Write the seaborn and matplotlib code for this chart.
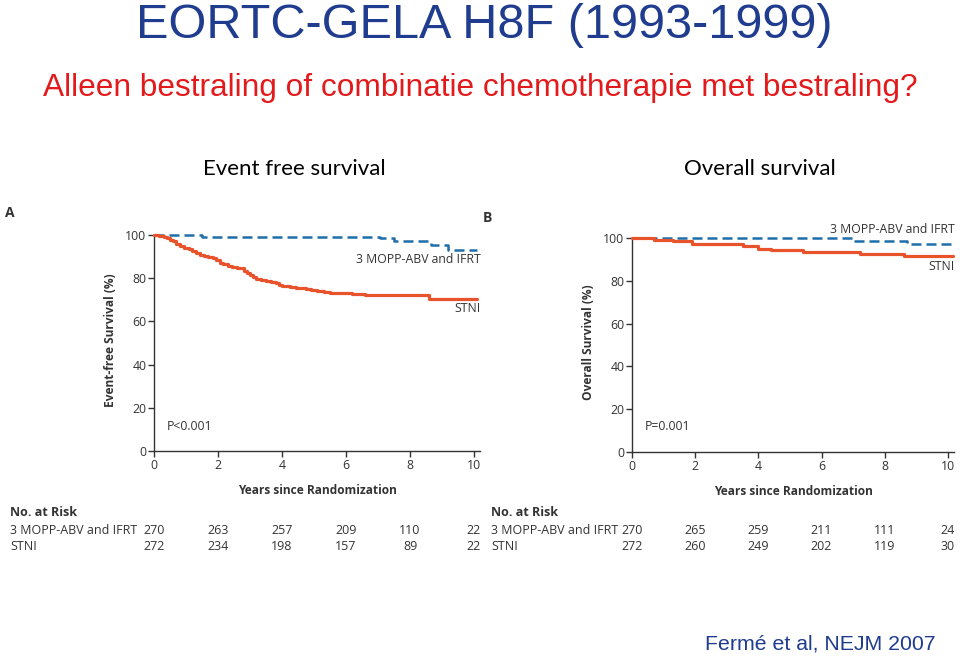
import matplotlib
matplotlib.use("Agg")
import matplotlib.pyplot as plt
import matplotlib.transforms as mtransforms
import pandas as pd
import seaborn as sns

# ---- data -------------------------------------------------------------
# Event-free survival (step points: time in years, survival %)
efs_mopp_t = [0, 1.5, 7.05, 7.5, 8.65, 9.2, 10.1]
efs_mopp_s = [100, 99.2, 98.5, 97.4, 95.4, 93.1, 93.1]
efs_stni_t = [0, 0.15, 0.3, 0.4, 0.5, 0.6, 0.7, 0.8, 0.95, 1.1, 1.2, 1.3,
              1.45, 1.55, 1.7, 1.85, 1.95, 2.05, 2.15, 2.3, 2.45, 2.6, 2.7,
              2.8, 2.9, 3.0, 3.1, 3.2, 3.35, 3.5, 3.65, 3.8, 3.9, 4.0, 4.25,
              4.45, 4.75, 4.9, 5.1, 5.3, 5.5, 5.8, 6.2, 6.6, 7.15, 8.6, 10.1]
efs_stni_s = [100, 99.6, 99.0, 98.5, 97.8, 97.0, 96.0, 94.8, 94.2, 93.6,
              92.6, 91.6, 90.9, 90.3, 89.9, 89.4, 88.5, 87.2, 86.4, 85.8,
              85.2, 84.9, 84.5, 83.4, 82.4, 81.4, 80.6, 79.8, 79.2, 78.7,
              78.2, 77.6, 76.9, 76.2, 75.9, 75.5, 75.0, 74.6, 74.1, 73.7,
              73.3, 73.0, 72.7, 72.4, 72.0, 70.3, 70.3]

# Overall survival
os_mopp_t = [0, 7.0, 8.7, 10.15]
os_mopp_s = [100, 98.4, 97.3, 97.3]
os_stni_t = [0, 0.7, 1.3, 1.9, 3.5, 4.0, 4.4, 5.4, 7.2, 8.6, 10.15]
os_stni_s = [100, 99.2, 98.4, 97.3, 96.4, 94.9, 94.2, 93.5, 92.7, 91.4, 91.4]

risk_years = [0, 2, 4, 6, 8, 10]
efs_risk_mopp = [270, 263, 257, 209, 110, 22]
efs_risk_stni = [272, 234, 198, 157, 89, 22]
os_risk_mopp = [270, 265, 259, 211, 111, 24]
os_risk_stni = [272, 260, 249, 202, 119, 30]

arm_labels = ["3 MOPP-ABV and IFRT", "STNI"]

RED = "#E8532B"
BLUE = "#1F6EA9"
NAVY = "#1F3C8F"
INK = "#333333"

sns.set_theme(style="ticks")
plt.rcParams["font.family"] = ["Open Sans", "DejaVu Sans"]

fig = plt.figure(figsize=(9.6, 6.56), dpi=100)
fig.patch.set_facecolor("white")

W, H = 960, 656


def make_axes(x0_px, x10_px, y0_px, y100_px):
    px_year = (x10_px - x0_px) / 10
    px_unit = (y0_px - y100_px) / 100
    xmax, ymax = 10.2, 103
    left = x0_px / W
    bottom = (H - y0_px) / H
    ax = fig.add_axes([left, bottom, xmax * px_year / W, ymax * px_unit / H])
    ax.set_xlim(0, xmax)
    ax.set_ylim(0, ymax)
    return ax


def style_axes(ax, ylabel):
    sns.despine(ax=ax)
    ax.spines["left"].set_bounds(0, 100)
    ax.spines["bottom"].set_bounds(0, 10.2)
    for side in ("left", "bottom"):
        ax.spines[side].set_color(INK)
        ax.spines[side].set_linewidth(1.0)
    ax.set_xticks(risk_years)
    ax.set_yticks([0, 20, 40, 60, 80, 100])
    ax.tick_params(direction="out", length=4, width=1.0, color=INK,
                   labelsize=8.8, labelcolor=INK, pad=1.5)
    ax.set_xlabel("Years since Randomization", fontsize=8.6,
                  fontweight="bold", color=INK, labelpad=9)
    ax.set_ylabel(ylabel, fontsize=8.6, fontweight="bold", color=INK,
                  labelpad=6)
    ax.set_facecolor("white")
    ax.grid(False)


def draw_curves(ax, mopp_t, mopp_s, stni_t, stni_s):
    stni = pd.DataFrame({"years": stni_t, "surv": stni_s})
    mopp = pd.DataFrame({"years": mopp_t, "surv": mopp_s})
    sns.lineplot(data=mopp, x="years", y="surv", ax=ax, estimator=None,
                 drawstyle="steps-post", color=BLUE, linewidth=1.8,
                 linestyle=(0, (4, 2)), clip_on=False, zorder=3)
    # STNI drawn on top, as in the reference
    sns.lineplot(data=stni, x="years", y="surv", ax=ax, estimator=None,
                 drawstyle="steps-post", color=RED, linewidth=2.3,
                 clip_on=False, zorder=4)


def risk_table(ax, x_label_px, risk_mopp, risk_stni):
    tr = mtransforms.blended_transform_factory(ax.transData, fig.transFigure)
    fig.text(x_label_px / W, 1 - 513 / H, "No. at Risk", fontsize=9,
             fontweight="bold", color=INK, va="center")
    for row_y, name, counts in ((530, arm_labels[0], risk_mopp),
                                (546, arm_labels[1], risk_stni)):
        fig.text(x_label_px / W, 1 - row_y / H, name, fontsize=9,
                 color=INK, va="center")
        for yr, n in zip(risk_years, counts):
            ax.text(yr, 1 - row_y / H, str(n), transform=tr, fontsize=9,
                    color=INK, ha="center", va="center")


# ---- panel A: event-free survival --------------------------------------
ax_a = make_axes(154, 474, 451, 235)
draw_curves(ax_a, efs_mopp_t, efs_mopp_s, efs_stni_t, efs_stni_s)
style_axes(ax_a, "Event-free Survival (%)")
ax_a.text(10.2, 88.5, arm_labels[0], ha="right", va="center",
          fontsize=8.8, color=INK)
ax_a.text(10.2, 66, arm_labels[1], ha="right", va="center",
          fontsize=8.8, color=INK)
ax_a.text(0.4, 11.5, "P<0.001", ha="left", va="center", fontsize=8.8,
          color=INK)
risk_table(ax_a, 10, efs_risk_mopp, efs_risk_stni)

# ---- panel B: overall survival -----------------------------------------
ax_b = make_axes(632, 948, 452, 238)
draw_curves(ax_b, os_mopp_t, os_mopp_s, os_stni_t, os_stni_s)
style_axes(ax_b, "Overall Survival (%)")
ax_b.text(10.2, 103.8, arm_labels[0], ha="right", va="center",
          fontsize=8.8, color=INK)
ax_b.text(10.2, 86.5, arm_labels[1], ha="right", va="center",
          fontsize=8.8, color=INK)
ax_b.text(0.4, 11.7, "P=0.001", ha="left", va="center", fontsize=8.8,
          color=INK)
risk_table(ax_b, 491, os_risk_mopp, os_risk_stni)

# ---- panel letters, headers, titles ------------------------------------
fig.text(5 / W, 1 - 213 / H, "A", fontsize=10, fontweight="bold",
         color=INK, va="center")
fig.text(483 / W, 1 - 218 / H, "B", fontsize=10, fontweight="bold",
         color=INK, va="center")

fig.text(294 / W, 1 - 175 / H, "Event free survival", fontsize=16,
         ha="center", va="baseline", color="black", family=["Lato"])
fig.text(760 / W, 1 - 175 / H, "Overall survival", fontsize=16,
         ha="center", va="baseline", color="black", family=["Lato"])

fig.text(484 / W, 1 - 38 / H, "EORTC-GELA H8F (1993-1999)", fontsize=35,
         ha="center", va="baseline", color=NAVY, family=["Liberation Sans"])
fig.text(480 / W, 1 - 96 / H,
         "Alleen bestraling of combinatie chemotherapie met bestraling?",
         fontsize=22.8, ha="center", va="baseline", color="#E31A1C",
         family=["Liberation Sans"])
fig.text(820 / W, 1 - 650 / H, "Fermé et al, NEJM 2007", fontsize=15.3,
         ha="center", va="baseline", color=NAVY, family=["Liberation Sans"])

fig.savefig("out.png", dpi=100, facecolor="white")
